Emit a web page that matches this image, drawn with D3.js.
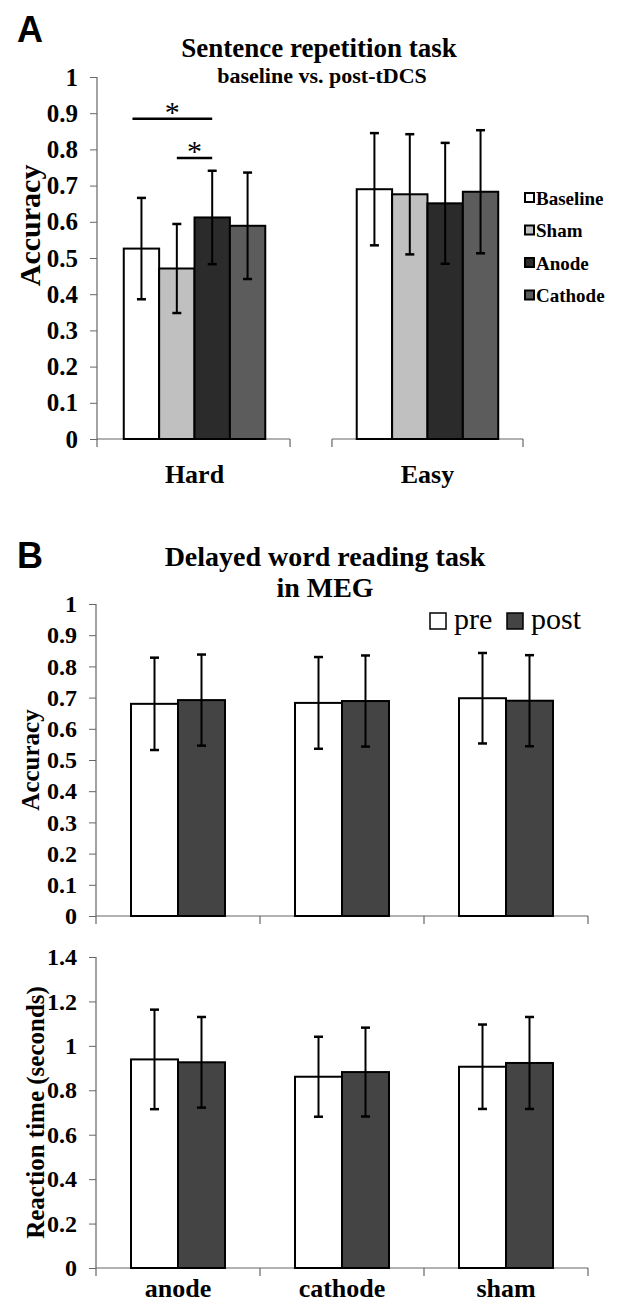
<!DOCTYPE html>
<html>
<head>
<meta charset="utf-8">
<script src="https://cdn.jsdelivr.net/npm/d3@7"></script>
<style>
body { margin: 0; background: #fff; }
svg { display: block; }
text { font-family: "Liberation Serif", "Times New Roman", serif; font-weight: bold; fill: #000; }
</style>
</head>
<body>
<script>
// ---- Panel A: sentence repetition ----
const tareas = ["Hard", "Easy"]
const condA = ["Baseline", "Sham", "Anode", "Cathode"]
const coloresA = ["#ffffff", "#c0c0c0", "#2b2b2b", "#5c5c5c"]
const mediaHard = [0.526, 0.471, 0.612, 0.589]
const errHard = [0.140, 0.123, 0.129, 0.147]
const mediaEasy = [0.690, 0.676, 0.651, 0.683]
const errEasy = [0.155, 0.166, 0.167, 0.170]
const ticksA = [0, 0.1, 0.2, 0.3, 0.4, 0.5, 0.6, 0.7, 0.8, 0.9, 1]
const sigA = [
    {a: "Baseline", b: "Anode", nivel: 0.885},
    {a: "Sham", b: "Anode", nivel: 0.776}
]

// ---- Panel B: delayed word reading in MEG ----
const estim = ["anode", "cathode", "sham"]
const fases = ["pre", "post"]
const coloresB = ["#ffffff", "#444444"]
const accPre = [0.680, 0.683, 0.698]
const accPost = [0.692, 0.689, 0.690]
const accPreErr = [0.148, 0.147, 0.145]
const accPostErr = [0.146, 0.146, 0.146]
const rtPre = [0.939, 0.861, 0.906]
const rtPost = [0.926, 0.882, 0.923]
const rtPreErr = [0.224, 0.180, 0.190]
const rtPostErr = [0.204, 0.200, 0.207]
const ticksAcc = [0, 0.1, 0.2, 0.3, 0.4, 0.5, 0.6, 0.7, 0.8, 0.9, 1]
const ticksRT = [0, 0.2, 0.4, 0.6, 0.8, 1, 1.2, 1.4]

const serif = "'Liberation Serif', 'Times New Roman', serif"
const sans = "'Liberation Sans', Arial, sans-serif"

const svg = d3.select("body").append("svg")
    .attr("width", 619)
    .attr("height", 1303)

const ejeColor = "#666"

function texto(x, y, t, tam, peso) {
    return svg.append("text").attr("x", x).attr("y", y)
        .style("font-family", serif)
        .style("font-weight", peso || "bold")
        .style("font-size", tam + "px")
        .text(t)
}

// eje Y con ticks hacia fuera y la linea un poco por debajo de 0
function ejeY(y, x0, ticks, tam) {
    const g = svg.append("g").attr("transform", "translate(" + x0 + ",0)")
    g.call(d3.axisLeft(y).tickValues(ticks).tickSize(7).tickPadding(12)
        .tickFormat(d => String(+d.toFixed(1))))
    g.select(".domain").remove()
    g.selectAll(".tick line").attr("stroke", ejeColor)
    g.selectAll(".tick text")
        .style("font-family", serif)
        .style("font-weight", "bold")
        .style("font-size", tam + "px")
        .attr("fill", "#000")
    g.append("line")
        .attr("y1", y.range()[1]).attr("y2", y.range()[0] + 8)
        .attr("stroke", ejeColor).attr("stroke-width", 1.2)
}

// segmento de eje X con ticks en los limites de cada banda
function ejeX(y0, xIni, xFin, limites) {
    svg.append("line")
        .attr("x1", xIni).attr("x2", xFin)
        .attr("y1", y0).attr("y2", y0)
        .attr("stroke", ejeColor).attr("stroke-width", 1.2)
    svg.selectAll(null).data(limites).enter().append("line")
        .attr("x1", d => d).attr("x2", d => d)
        .attr("y1", y0).attr("y2", y0 + 8)
        .attr("stroke", ejeColor).attr("stroke-width", 1.2)
}

function barras(filas, x, xs, y) {
    const g = svg.append("g")
    g.selectAll("rect").data(filas).enter().append("rect")
        .attr("x", d => x(d.cat) + xs(d.serie))
        .attr("y", d => y(d.valor))
        .attr("width", xs.bandwidth())
        .attr("height", d => y(0) - y(d.valor))
        .attr("fill", d => d.color)
        .attr("stroke", "#000")
        .attr("stroke-width", 2)
    const cx = d => x(d.cat) + xs(d.serie) + xs.bandwidth() / 2
    g.selectAll(".err").data(filas).enter().append("line")
        .attr("x1", cx).attr("x2", cx)
        .attr("y1", d => y(d.valor - d.err)).attr("y2", d => y(d.valor + d.err))
        .attr("stroke", "#000").attr("stroke-width", 2)
    ;[-1, 1].forEach(s => {
        g.selectAll(null).data(filas).enter().append("line")
            .attr("x1", d => cx(d) - 4.5).attr("x2", d => cx(d) + 4.5)
            .attr("y1", d => y(d.valor + s * d.err)).attr("y2", d => y(d.valor + s * d.err))
            .attr("stroke", "#000").attr("stroke-width", 2.5)
    })
}

// ================= PANEL A =================
const yA = d3.scaleLinear().domain([0, 1]).range([439, 77])
const xA = d3.scaleBand().domain(tareas).range([99, 523]).paddingInner(0.18)
const xsA = d3.scaleBand().domain(condA).range([0, xA.bandwidth()]).paddingOuter(0.7)

texto(17, 42, "A", 36).style("font-family", sans)
texto(319, 57, "Sentence repetition task", 27).attr("text-anchor", "middle")
texto(322, 83, "baseline vs. post-tDCS", 22).attr("text-anchor", "middle")

ejeY(yA, 97, ticksA, 25)
ejeX(yA(0), 97, xA("Hard") + xA.bandwidth(), [xA("Hard") + xA.bandwidth()])
ejeX(yA(0), xA("Easy"), xA("Easy") + xA.bandwidth(), [xA("Easy"), xA("Easy") + xA.bandwidth()])

const filasA = []
condA.forEach((c, i) => {
    filasA.push({cat: "Hard", serie: c, valor: mediaHard[i], err: errHard[i], color: coloresA[i]})
    filasA.push({cat: "Easy", serie: c, valor: mediaEasy[i], err: errEasy[i], color: coloresA[i]})
})
barras(filasA, xA, xsA, yA)

// etiquetas de categoria
tareas.forEach(t => {
    texto(xA(t) + xA.bandwidth() / 2, yA(0) + 44, t, 26).attr("text-anchor", "middle")
})

texto(0, 0, "Accuracy", 30)
    .attr("transform", "translate(40," + yA(0.59) + ") rotate(-90)")
    .attr("text-anchor", "middle")

// significancia
const cxA = c => xA("Hard") + xsA(c) + xsA.bandwidth() / 2
sigA.forEach((s, i) => {
    const x1 = cxA(s.a) - (i == 0 ? 9 : 0)
    const x2 = cxA(s.b)
    svg.append("line")
        .attr("x1", x1).attr("x2", x2)
        .attr("y1", yA(s.nivel)).attr("y2", yA(s.nivel))
        .attr("stroke", "#000").attr("stroke-width", 2.5)
    texto((x1 + x2) / 2, yA(s.nivel) + 3, "*", 30, "normal").attr("text-anchor", "middle")
})

// leyenda A
condA.forEach((c, i) => {
    svg.append("rect").attr("x", 525).attr("y", 198 + i * 32.5 - 5)
        .attr("width", 9).attr("height", 9)
        .attr("fill", coloresA[i]).attr("stroke", "#000").attr("stroke-width", 2)
    texto(536, 198 + i * 32.5 + 6.5, c, 19)
})

// ================= PANEL B =================
texto(17, 568, "B", 36).style("font-family", sans)
texto(325, 566, "Delayed word reading task", 28).attr("text-anchor", "middle")
texto(325, 597, "in MEG", 28).attr("text-anchor", "middle")

const xB = d3.scaleBand().domain(estim).range([96, 588])
const xsB = d3.scaleBand().domain(fases).range([0, xB.bandwidth()]).paddingOuter(0.745)
const limitesB = estim.map(d => xB(d) + xB.bandwidth())

// precision
const yAcc = d3.scaleLinear().domain([0, 1]).range([916, 604])
ejeY(yAcc, 96, ticksAcc, 24)
ejeX(yAcc(0), 96, 588, limitesB)
const filasAcc = []
estim.forEach((e, i) => {
    filasAcc.push({cat: e, serie: "pre", valor: accPre[i], err: accPreErr[i], color: coloresB[0]})
    filasAcc.push({cat: e, serie: "post", valor: accPost[i], err: accPostErr[i], color: coloresB[1]})
})
barras(filasAcc, xB, xsB, yAcc)
texto(0, 0, "Accuracy", 25)
    .attr("transform", "translate(39," + yAcc(0.5) + ") rotate(-90)")
    .attr("text-anchor", "middle")

// leyenda B
fases.forEach((f, i) => {
    svg.append("rect").attr("x", 430 + i * 77).attr("y", 613)
        .attr("width", 16).attr("height", 16)
        .attr("fill", coloresB[i]).attr("stroke", "#000").attr("stroke-width", 1.5)
    texto(430 + i * 77 + 24, 629, f, 30, "normal")
})

// tiempo de reaccion
const yRT = d3.scaleLinear().domain([0, 1.4]).range([1268, 957])
ejeY(yRT, 96, ticksRT, 24)
ejeX(yRT(0), 96, 588, limitesB)
const filasRT = []
estim.forEach((e, i) => {
    filasRT.push({cat: e, serie: "pre", valor: rtPre[i], err: rtPreErr[i], color: coloresB[0]})
    filasRT.push({cat: e, serie: "post", valor: rtPost[i], err: rtPostErr[i], color: coloresB[1]})
})
barras(filasRT, xB, xsB, yRT)
texto(0, 0, "Reaction time (seconds)", 25)
    .attr("transform", "translate(44," + yRT(0.7) + ") rotate(-90)")
    .attr("text-anchor", "middle")

estim.forEach(e => {
    texto(xB(e) + xB.bandwidth() / 2, yRT(0) + 29, e, 26).attr("text-anchor", "middle")
})
</script>
</body>
</html>
